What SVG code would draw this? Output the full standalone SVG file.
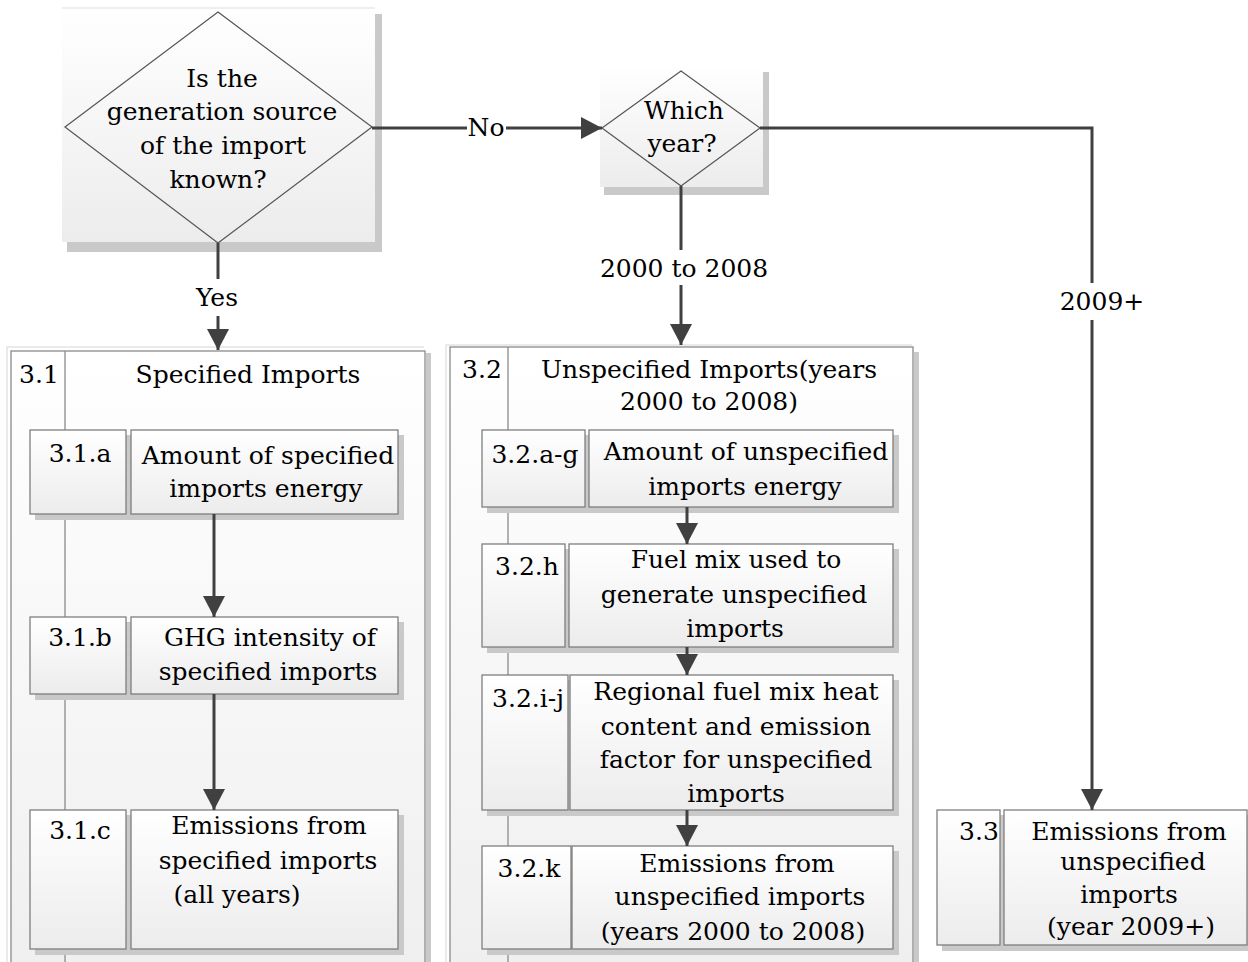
<svg xmlns="http://www.w3.org/2000/svg" width="1248" height="962" viewBox="0 0 1248 962" font-family="DejaVu Serif, Liberation Serif, serif">
<defs>
<linearGradient id="gBox" x1="0" y1="0" x2="0" y2="1"><stop offset="0" stop-color="#ffffff"/><stop offset="1" stop-color="#ececec"/></linearGradient>
<linearGradient id="gCont" x1="0" y1="0" x2="0" y2="1"><stop offset="0" stop-color="#ffffff"/><stop offset="1" stop-color="#efefef"/></linearGradient>
<marker id="arr" markerUnits="userSpaceOnUse" markerWidth="21" markerHeight="22" viewBox="0 0 21 22" refX="21" refY="11" orient="auto"><path d="M0,0 L21,11 L0,22 Z" fill="#404040"/></marker>
<style>
text{font-family:'DejaVu Serif','Liberation Serif',serif}
.t{font-size:25px;fill:#000;text-anchor:middle}
.box{fill:url(#gBox);stroke:#7f7f7f;stroke-width:1.3}
.cont{fill:url(#gCont);stroke:#8a8a8a;stroke-width:1.3}
.glow{fill:none;stroke:#e4e4e4;stroke-width:1.5}
.sh{fill:#c9c9c9}
.bg{fill:url(#gBox)}
.dia{fill:none;stroke:#555;stroke-width:1.2}
.div{stroke:#8a8a8a;stroke-width:1.3;fill:none}
.conn{stroke:#404040;stroke-width:3;fill:none}
</style>
</defs>
<rect width="1248" height="962" fill="#ffffff"/>

<g id="d1">
<rect class="sh" x="67" y="14" width="315" height="238"/>
<line x1="62" y1="8" x2="375" y2="8" stroke="#eeeeee" stroke-width="2"/>
<rect class="bg" x="62" y="9" width="313" height="233"/>
<polygon class="dia" points="218,12 372,127 218,243 65,127"/>
<text class="t" x="222" y="87">Is the</text>
<text class="t" x="222" y="120">generation source</text>
<text class="t" x="223" y="154">of the import</text>
<text class="t" x="218" y="188">known?</text>
</g>

<g id="d2">
<rect class="sh" x="604" y="72" width="165" height="123"/>
<rect class="bg" x="600" y="66" width="163" height="121"/>
<polygon class="dia" points="681,71 760,128 681,186 602,128"/>
<text class="t" x="684" y="119">Which</text>
<text class="t" x="682" y="152">year?</text>
</g>

<g id="c31">
<rect class="sh" x="426" y="353" width="5" height="620"/>
<path class="glow" d="M7,970 V347 H424"/>
<rect class="cont" x="11" y="351" width="414" height="620"/>
<line class="div" x1="65" y1="351" x2="65" y2="962"/>
<text class="t" x="39" y="383">3.1</text>
<text class="t" x="248" y="383">Specified Imports</text>
</g>

<g id="c32">
<rect class="sh" x="914" y="352" width="5" height="620"/>
<path class="glow" d="M446,970 V345 H912"/>
<rect class="cont" x="450" y="347" width="463" height="620"/>
<line class="div" x1="508" y1="347" x2="508" y2="962"/>
<text class="t" x="482" y="378">3.2</text>
<text class="t" x="709" y="378">Unspecified Imports(years</text>
<text class="t" x="709" y="410">2000 to 2008)</text>
</g>

<g id="n31a">
<rect class="sh" x="35" y="435" width="369" height="85"/>
<rect class="box" x="30" y="430" width="96" height="84"/>
<rect class="box" x="131" y="430" width="267" height="84"/>
<text class="t" x="80" y="462">3.1.a</text>
<text class="t" x="268" y="464">Amount of specified</text>
<text class="t" x="266" y="497">imports energy</text>
</g>

<g id="n31b">
<rect class="sh" x="35" y="622" width="369" height="78"/>
<rect class="box" x="30" y="617" width="96" height="77"/>
<rect class="box" x="131" y="617" width="267" height="77"/>
<text class="t" x="80" y="646">3.1.b</text>
<text class="t" x="270" y="646">GHG intensity of</text>
<text class="t" x="268" y="680">specified imports</text>
</g>

<g id="n31c">
<rect class="sh" x="35" y="815" width="369" height="140"/>
<rect class="box" x="30" y="810" width="96" height="139"/>
<rect class="box" x="131" y="810" width="267" height="139"/>
<text class="t" x="80" y="839">3.1.c</text>
<text class="t" x="269" y="834">Emissions from</text>
<text class="t" x="268" y="869">specified imports</text>
<text class="t" x="237" y="903">(all years)</text>
</g>

<g id="n32ag">
<rect class="sh" x="487" y="435" width="412" height="78"/>
<rect class="box" x="482" y="430" width="103" height="77"/>
<rect class="box" x="589" y="430" width="304" height="77"/>
<text class="t" x="535" y="463">3.2.a-g</text>
<text class="t" x="746" y="460">Amount of unspecified</text>
<text class="t" x="745" y="495">imports energy</text>
</g>

<g id="n32h">
<rect class="sh" x="487" y="549" width="412" height="104"/>
<rect class="box" x="482" y="544" width="83" height="103"/>
<rect class="box" x="569" y="544" width="324" height="103"/>
<text class="t" x="527" y="575">3.2.h</text>
<text class="t" x="736" y="568">Fuel mix used to</text>
<text class="t" x="734" y="603">generate unspecified</text>
<text class="t" x="735" y="637">imports</text>
</g>

<g id="n32ij">
<rect class="sh" x="487" y="680" width="412" height="136"/>
<rect class="box" x="482" y="675" width="86" height="135"/>
<rect class="box" x="570" y="675" width="323" height="135"/>
<text class="t" x="528" y="707">3.2.i-j</text>
<text class="t" x="736" y="700">Regional fuel mix heat</text>
<text class="t" x="736" y="735">content and emission</text>
<text class="t" x="736" y="768">factor for unspecified</text>
<text class="t" x="736" y="802">imports</text>
</g>

<g id="n32k">
<rect class="sh" x="487" y="851" width="412" height="104"/>
<rect class="box" x="482" y="846" width="89" height="103"/>
<rect class="box" x="572" y="846" width="321" height="103"/>
<text class="t" x="529" y="877">3.2.k</text>
<text class="t" x="737" y="872">Emissions from</text>
<text class="t" x="740" y="905">unspecified imports</text>
<text class="t" x="733" y="940">(years 2000 to 2008)</text>
</g>

<g id="n33">
<rect class="sh" x="942" y="815" width="308" height="136"/>
<rect class="box" x="937" y="810" width="63" height="135"/>
<rect class="box" x="1004" y="810" width="243" height="135"/>
<text class="t" x="979" y="840">3.3</text>
<text class="t" x="1129" y="840">Emissions from</text>
<text class="t" x="1133" y="870">unspecified</text>
<text class="t" x="1129" y="903">imports</text>
<text class="t" x="1131" y="935">(year 2009+)</text>
</g>

<g id="connectors">
<line class="conn" x1="218" y1="243" x2="218" y2="279"/>
<line class="conn" x1="218" y1="316" x2="218" y2="350" marker-end="url(#arr)"/>
<text class="t" x="217" y="306">Yes</text>
<line class="conn" x1="372" y1="128" x2="467" y2="128"/>
<line class="conn" x1="506" y1="128" x2="602" y2="128" marker-end="url(#arr)"/>
<text class="t" x="486" y="136">No</text>
<line class="conn" x1="681" y1="186" x2="681" y2="250"/>
<line class="conn" x1="681" y1="285" x2="681" y2="345" marker-end="url(#arr)"/>
<text class="t" x="684" y="277">2000 to 2008</text>
<polyline class="conn" points="760,128 1092,128 1092,283"/>
<line class="conn" x1="1092" y1="320" x2="1092" y2="810" marker-end="url(#arr)"/>
<text class="t" x="1102" y="310">2009+</text>
<line class="conn" x1="214" y1="514" x2="214" y2="617" marker-end="url(#arr)"/>
<line class="conn" x1="214" y1="694" x2="214" y2="810" marker-end="url(#arr)"/>
<line class="conn" x1="687" y1="507" x2="687" y2="544" marker-end="url(#arr)"/>
<line class="conn" x1="687" y1="647" x2="687" y2="675" marker-end="url(#arr)"/>
<line class="conn" x1="687" y1="810" x2="687" y2="846" marker-end="url(#arr)"/>
</g>
</svg>
